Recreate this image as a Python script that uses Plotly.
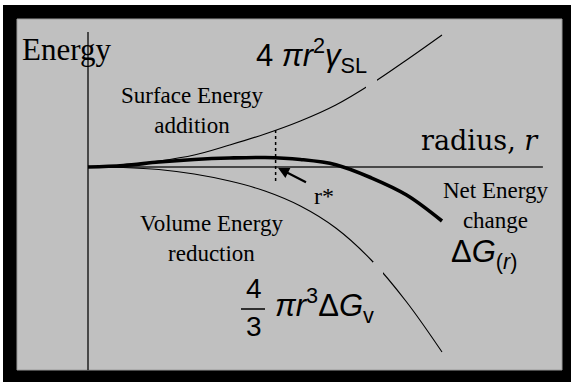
import numpy as np
import plotly.graph_objects as go

# ---- data: nucleus radius and the three energy terms ----
radius = [0, 1, 2, 3, 4, 5, 6, 7, 8, 9, 10]
surface_energy = [0, 0.2, 0.6, 1.2, 2.2, 3.3, 4.6, 6.2, 8.3, 10.7, 13.2]          # 4 pi r^2 gamma_SL
volume_energy = [0, -0.05, -0.25, -0.7, -1.4, -2.4, -3.9, -6.1, -9.3, -13.5, -18.5]  # 4/3 pi r^3 dG_v
net_energy = [0, 0.15, 0.5, 0.75, 0.9, 0.95, 0.75, 0.23, -1.08, -2.8, -5.4]        # dG(r)
r_star = 5.3
r_star_low = -1.5
axis_top = 13.5
axis_bottom = -20.3
axis_right = 12.85

W, H = 571, 382
X_RANGE = [-2.486, 13.644]
Y_RANGE = [-21.5, 16.7]
BG = "#c0c0c0"


def px(x):
    return x / W


def py(y):
    return 1 - y / H


fig = go.Figure()

# coordinate axes
fig.add_trace(go.Scatter(x=[0, 0], y=[axis_top, axis_bottom], mode="lines",
                         line=dict(color="#202020", width=1.5), hoverinfo="skip"))
fig.add_trace(go.Scatter(x=[0, axis_right], y=[0, 0], mode="lines",
                         line=dict(color="#202020", width=1.5), hoverinfo="skip"))

# energy curves
fig.add_trace(go.Scatter(x=radius, y=surface_energy, mode="lines", line_shape="spline",
                         line=dict(color="black", width=1.1)))
fig.add_trace(go.Scatter(x=radius, y=volume_energy, mode="lines", line_shape="spline",
                         line=dict(color="black", width=1.1)))
fig.add_trace(go.Scatter(x=radius, y=net_energy, mode="lines", line_shape="spline",
                         line=dict(color="black", width=3.6)))

# critical radius marker
r_star_top = float(np.interp(r_star, radius, surface_energy))
fig.add_trace(go.Scatter(x=[r_star, r_star], y=[r_star_top, r_star_low], mode="lines",
                         line=dict(color="black", width=1.5, dash="dot")))

shapes = [
    # black frame and grey panel
    dict(type="rect", xref="paper", yref="paper", x0=px(3), x1=px(571), y0=py(382), y1=py(5),
         fillcolor="black", line=dict(width=0), layer="below"),
    dict(type="rect", xref="paper", yref="paper", x0=px(17), x1=px(562), y0=py(370), y1=py(19),
         fillcolor=BG, line=dict(color="#9a9a9a", width=1), layer="below"),
    # backing boxes of the formula labels
    dict(type="rect", xref="paper", yref="paper", x0=px(366), x1=px(377), y0=py(95), y1=py(70),
         fillcolor=BG, line=dict(width=0), layer="above"),
    dict(type="rect", xref="paper", yref="paper", x0=px(373), x1=px(383), y0=py(282), y1=py(262),
         fillcolor=BG, line=dict(width=0), layer="above"),
    # fraction bar of 4/3
    dict(type="line", xref="paper", yref="paper", x0=px(241), x1=px(265), y0=py(309), y1=py(309),
         line=dict(color="black", width=1.5), layer="above"),
]

serif = "Liberation Serif, Times New Roman, serif"
sans = "Liberation Sans, Arial, sans-serif"


def label(text, x, y, size, family=serif, align="center"):
    return dict(text=text, xref="paper", yref="paper", x=px(x), y=py(y),
                xanchor="center", yanchor="middle", showarrow=False, align=align,
                font=dict(family=family, size=size, color="black"))


annotations = [
    label("Energy", 66, 50, 31),
    label("Surface Energy<br>addition", 192, 110, 23),
    label("Volume Energy<br>reduction", 212, 238, 23),
    label("Net Energy<br>change", 495, 205, 23),
    label("radius, <i>r</i>", 480, 141, 27, family="DejaVu Serif, serif"),
    label("r*", 324, 196, 24),
    label("4 <i>πr</i><sup>2</sup><i>γ</i><sub>SL</sub>", 311, 56, 31, family=sans),
    label("Δ<i>G</i><sub>(<i>r</i>)</sub>", 484, 254, 31, family=sans),
    label("4", 254, 288, 28, family=sans),
    label("3", 254, 326, 28, family=sans),
    label("<i>πr</i><sup>3</sup>Δ<i>G</i><sub>v</sub>", 324, 305, 31, family=sans),
    # arrow pointing at r*
    dict(x=r_star + 0.07, y=-0.1, ax=r_star + 0.9, ay=-1.6, xref="x", yref="y",
         axref="x", ayref="y", text="", showarrow=True, arrowhead=2, arrowsize=1,
         arrowwidth=2.2, arrowcolor="black", font=dict(size=12)),
]

fig.update_layout(
    width=W, height=H,
    margin=dict(l=0, r=0, t=0, b=0),
    paper_bgcolor="white", plot_bgcolor="white",
    font=dict(family=serif, size=23, color="black"),
    showlegend=False,
    xaxis=dict(range=X_RANGE, visible=False, fixedrange=True),
    yaxis=dict(range=Y_RANGE, visible=False, fixedrange=True),
    shapes=shapes,
    annotations=annotations,
)

fig.write_html("out.html")
